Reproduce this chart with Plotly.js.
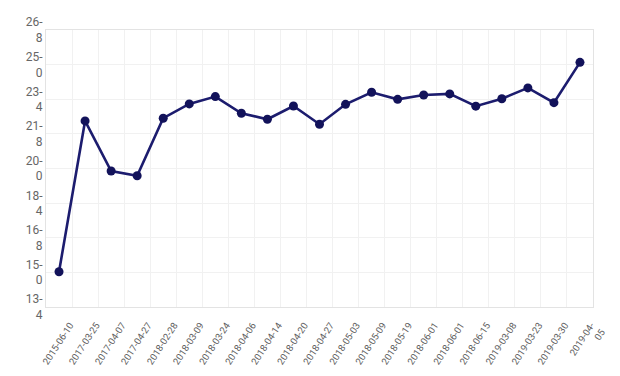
<!DOCTYPE html>
<html>
<head>
<meta charset="utf-8">
<script src="https://cdn.plot.ly/plotly-3.0.1.min.js"></script>
<style>html,body{margin:0;padding:0;background:#fff;}#chart{width:620px;height:376px;}</style>
</head>
<body>
<div id="chart"></div>
<script>
var dates = ["2015-06-10","2017-03-25","2017-04-07","2017-04-27","2018-02-28","2018-03-09","2018-03-24","2018-04-06","2018-04-14","2018-04-20","2018-04-27","2018-05-03","2018-05-09","2018-05-19","2018-06-01","2018-06-01","2018-06-15","2019-03-08","2019-03-23","2019-03-30","2019-04-<br>05"];
var values = [150.3,222.9,198.8,196.5,224.2,231.1,234.6,226.6,223.7,230.1,221.3,230.9,236.7,233.3,235.4,235.9,230.0,233.6,238.8,231.7,251.1];
var yTickVals = [400/3, 450/3, 500/3, 550/3, 600/3, 650/3, 700/3, 750/3, 800/3];
var yTickText = ["13-<br>4","15-<br>0","16-<br>8","18-<br>4","20-<br>0","21-<br>8","23-<br>4","25-<br>0","26-<br>8"];

var idx = dates.map(function(d,i){return i;});

var trace = {
  x: idx, y: values, type: 'scatter', mode: 'lines+markers',
  line: {color: '#1c1c6e', width: 2.6},
  marker: {color: '#12125a', size: 9, line: {color: '#12125a', width: 0}},
  hoverinfo: 'none'
};

var layout = {
  width: 620, height: 376,
  margin: {l: 46, r: 27, t: 30, b: 69},
  paper_bgcolor: '#fff', plot_bgcolor: '#fff',
  showlegend: false,
  font: {family: 'Roboto, "Open Sans", sans-serif', size: 10, color: '#666'},
  xaxis: {
    range: [-0.5, dates.length - 0.5],
    tickmode: 'array', tickvals: idx, ticktext: dates,
    tickangle: -57, showgrid: false, zeroline: false,
    showline: true, linecolor: '#e3e3e3', linewidth: 1, mirror: true,
    ticks: 'outside', ticklen: 8, tickcolor: 'rgba(0,0,0,0)',
    tickfont: {size: 9.5, color: '#5e5e5e'},
    ticklabelshift: 11,
    minor: {showgrid: true, gridcolor: '#f1f1f1', gridwidth: 1, tick0: -0.5, dtick: 1}
  },
  yaxis: {
    range: [400/3, 800/3],
    tickmode: 'array', tickvals: yTickVals, ticktext: yTickText,
    showgrid: true, gridcolor: '#f1f1f1', zeroline: false,
    showline: true, linecolor: '#e3e3e3', linewidth: 1, mirror: true,
    ticks: '', ticklen: 0, tickfont: {size: 12, color: '#666'}
  }
};

Plotly.newPlot('chart', [trace], layout, {displayModeBar: false, staticPlot: true});
</script>
</body>
</html>
